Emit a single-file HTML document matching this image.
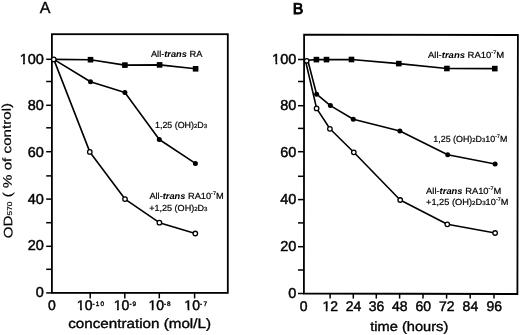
<!DOCTYPE html>
<html><head><meta charset="utf-8"><style>
html,body{margin:0;padding:0;background:#fff;}
body{width:520px;height:335px;overflow:hidden;}
svg{display:block;will-change:transform;text-rendering:geometricPrecision;}
text{font-family:"Liberation Sans", sans-serif;fill:#000;stroke:#000;stroke-width:0.45px;}
</style></head><body>
<svg width="520" height="335" viewBox="0 0 520 335">
<rect x="51.9" y="34.2" width="175.90" height="258.70" fill="none" stroke="#000" stroke-width="1.8"/>
<line x1="46.2" y1="59.30" x2="51.9" y2="59.30" stroke="#000" stroke-width="1.5"/>
<line x1="46.2" y1="81.50" x2="51.9" y2="81.50" stroke="#000" stroke-width="1.5"/>
<line x1="46.2" y1="105.30" x2="51.9" y2="105.30" stroke="#000" stroke-width="1.5"/>
<line x1="46.2" y1="127.80" x2="51.9" y2="127.80" stroke="#000" stroke-width="1.5"/>
<line x1="46.2" y1="151.70" x2="51.9" y2="151.70" stroke="#000" stroke-width="1.5"/>
<line x1="46.2" y1="175.90" x2="51.9" y2="175.90" stroke="#000" stroke-width="1.5"/>
<line x1="46.2" y1="199.10" x2="51.9" y2="199.10" stroke="#000" stroke-width="1.5"/>
<line x1="46.2" y1="222.70" x2="51.9" y2="222.70" stroke="#000" stroke-width="1.5"/>
<line x1="46.2" y1="246.30" x2="51.9" y2="246.30" stroke="#000" stroke-width="1.5"/>
<line x1="46.2" y1="269.30" x2="51.9" y2="269.30" stroke="#000" stroke-width="1.5"/>
<line x1="46.2" y1="292.90" x2="51.9" y2="292.90" stroke="#000" stroke-width="1.5"/>
<line x1="90.20" y1="292.9" x2="90.20" y2="298.4" stroke="#000" stroke-width="1.5"/>
<line x1="124.80" y1="292.9" x2="124.80" y2="298.4" stroke="#000" stroke-width="1.5"/>
<line x1="159.30" y1="292.9" x2="159.30" y2="298.4" stroke="#000" stroke-width="1.5"/>
<line x1="194.60" y1="292.9" x2="194.60" y2="298.4" stroke="#000" stroke-width="1.5"/>
<text x="43.85" y="63.7" font-size="14.5" text-anchor="end" >100</text>
<text x="43.85" y="110.4" font-size="14.5" text-anchor="end" >80</text>
<text x="43.85" y="157.1" font-size="14.5" text-anchor="end" >60</text>
<text x="43.85" y="203.7" font-size="14.5" text-anchor="end" >40</text>
<text x="43.85" y="249.8" font-size="14.5" text-anchor="end" >20</text>
<text x="43.85" y="296.5" font-size="14.5" text-anchor="end" >0</text>
<text x="51.9" y="310.4" font-size="14" text-anchor="middle" >0</text>
<text x="92.45" y="310.4" font-size="14" text-anchor="end" >10</text>
<text x="92.5" y="305.5" font-size="6.4" textLength="11.6" lengthAdjust="spacing" style="stroke-width:0.35px">-10</text>
<text x="129.35" y="310.4" font-size="14" text-anchor="end" >10</text>
<text x="129.4" y="305.5" font-size="6.4" textLength="6.65" lengthAdjust="spacing" style="stroke-width:0.35px">-9</text>
<text x="164.05" y="310.4" font-size="14" text-anchor="end" >10</text>
<text x="164.1" y="305.5" font-size="6.4" textLength="6.35" lengthAdjust="spacing" style="stroke-width:0.35px">-8</text>
<text x="199.95" y="310.4" font-size="14" text-anchor="end" >10</text>
<text x="200.0" y="305.5" font-size="6.4" textLength="7.05" lengthAdjust="spacing" style="stroke-width:0.35px">-7</text>
<text x="68.2" y="327.7" font-size="13.4" text-anchor="start" textLength="142.8" lengthAdjust="spacingAndGlyphs" style="stroke-width:0.35px" >concentration (mol/L)</text>
<text transform="translate(12.4,238.3) rotate(-90.8)" font-size="12.3" style="stroke-width:0.2px" textLength="135.5" lengthAdjust="spacingAndGlyphs">OD<tspan font-size="6.8">570</tspan> ( % of control)</text>
<text x="45.2" y="12.6" font-size="16.0" text-anchor="middle" style="stroke-width:0.35px" >A</text>
<path d="M53.8,59.4 L90.5,59.7 L124.9,65.1 L159.6,64.9 L195.6,68.8" fill="none" stroke="#000" stroke-width="1.6" stroke-linejoin="round"/>
<path d="M53.8,59.4 L90.5,81.7 L124.9,92.5 L159.3,139.5 L195.4,163.4" fill="none" stroke="#000" stroke-width="1.6" stroke-linejoin="round"/>
<path d="M53.8,59.4 L89.8,151.9 L125.0,199.1 L159.4,222.7 L195.3,233.5" fill="none" stroke="#000" stroke-width="1.6" stroke-linejoin="round"/>
<rect x="87.70" y="56.90" width="5.6" height="5.6" fill="#000"/>
<rect x="122.10" y="62.30" width="5.6" height="5.6" fill="#000"/>
<rect x="156.80" y="62.10" width="5.6" height="5.6" fill="#000"/>
<rect x="192.80" y="66.00" width="5.6" height="5.6" fill="#000"/>
<circle cx="90.5" cy="81.7" r="2.5" fill="#000"/>
<circle cx="124.9" cy="92.5" r="2.5" fill="#000"/>
<circle cx="159.3" cy="139.5" r="2.5" fill="#000"/>
<circle cx="195.4" cy="163.4" r="2.5" fill="#000"/>
<circle cx="53.8" cy="59.4" r="2.25" fill="#fff" stroke="#000" stroke-width="1.3"/>
<circle cx="89.8" cy="151.9" r="2.25" fill="#fff" stroke="#000" stroke-width="1.3"/>
<circle cx="125.0" cy="199.1" r="2.25" fill="#fff" stroke="#000" stroke-width="1.3"/>
<circle cx="159.4" cy="222.7" r="2.25" fill="#fff" stroke="#000" stroke-width="1.3"/>
<circle cx="195.3" cy="233.5" r="2.25" fill="#fff" stroke="#000" stroke-width="1.3"/>
<text x="150.9" y="56.8" font-size="8.8" text-anchor="start" textLength="51.5" lengthAdjust="spacingAndGlyphs" style="stroke-width:0.2px" >All-<tspan font-style="italic" font-weight="bold" style="stroke-width:0.05px">trans</tspan> RA</text>
<text x="155.0" y="128.1" font-size="8.8" text-anchor="start" textLength="52.0" lengthAdjust="spacingAndGlyphs" style="stroke-width:0.2px" >1,25 (OH)<tspan font-size="5.9">2</tspan>D<tspan font-size="5.9">3</tspan></text>
<text x="149.4" y="198.9" font-size="8.8" text-anchor="start" textLength="74.3" lengthAdjust="spacingAndGlyphs" style="stroke-width:0.2px" >All-<tspan font-style="italic" font-weight="bold" style="stroke-width:0.05px">trans</tspan> RA10<tspan font-size="5.2" dy="-3.9">-7</tspan><tspan dy="3.9">M</tspan></text>
<text x="149.2" y="211.1" font-size="8.8" text-anchor="start" textLength="58.3" lengthAdjust="spacingAndGlyphs" style="stroke-width:0.2px" >+1,25 (OH)<tspan font-size="5.9">2</tspan>D<tspan font-size="5.9">3</tspan></text>
<path d="M304.1,34.65 L517.9,35.0 L517.4,294.0 L303.9,293.5 Z" fill="none" stroke="#000" stroke-width="1.8" stroke-linejoin="miter"/>
<line x1="298.0" y1="59.50" x2="304.0" y2="59.50" stroke="#000" stroke-width="1.5"/>
<line x1="298.0" y1="81.50" x2="304.0" y2="81.50" stroke="#000" stroke-width="1.5"/>
<line x1="298.0" y1="105.70" x2="304.0" y2="105.70" stroke="#000" stroke-width="1.5"/>
<line x1="298.0" y1="128.40" x2="304.0" y2="128.40" stroke="#000" stroke-width="1.5"/>
<line x1="298.0" y1="151.70" x2="304.0" y2="151.70" stroke="#000" stroke-width="1.5"/>
<line x1="298.0" y1="176.30" x2="304.0" y2="176.30" stroke="#000" stroke-width="1.5"/>
<line x1="298.0" y1="199.60" x2="304.0" y2="199.60" stroke="#000" stroke-width="1.5"/>
<line x1="298.0" y1="222.90" x2="304.0" y2="222.90" stroke="#000" stroke-width="1.5"/>
<line x1="298.0" y1="246.70" x2="304.0" y2="246.70" stroke="#000" stroke-width="1.5"/>
<line x1="298.0" y1="270.00" x2="304.0" y2="270.00" stroke="#000" stroke-width="1.5"/>
<line x1="298.0" y1="293.50" x2="304.0" y2="293.50" stroke="#000" stroke-width="1.5"/>
<line x1="330.10" y1="293.6" x2="330.10" y2="298.6" stroke="#000" stroke-width="1.5"/>
<line x1="353.30" y1="293.6" x2="353.30" y2="298.6" stroke="#000" stroke-width="1.5"/>
<line x1="376.30" y1="293.6" x2="376.30" y2="298.6" stroke="#000" stroke-width="1.5"/>
<line x1="399.60" y1="293.6" x2="399.60" y2="298.6" stroke="#000" stroke-width="1.5"/>
<line x1="423.00" y1="293.6" x2="423.00" y2="298.6" stroke="#000" stroke-width="1.5"/>
<line x1="446.60" y1="293.6" x2="446.60" y2="298.6" stroke="#000" stroke-width="1.5"/>
<line x1="470.20" y1="293.6" x2="470.20" y2="298.6" stroke="#000" stroke-width="1.5"/>
<line x1="494.00" y1="293.6" x2="494.00" y2="298.6" stroke="#000" stroke-width="1.5"/>
<text x="296.3" y="63.7" font-size="14.5" text-anchor="end" >100</text>
<text x="296.3" y="110.2" font-size="14.5" text-anchor="end" >80</text>
<text x="296.3" y="157.2" font-size="14.5" text-anchor="end" >60</text>
<text x="296.3" y="203.9" font-size="14.5" text-anchor="end" >40</text>
<text x="296.3" y="250.7" font-size="14.5" text-anchor="end" >20</text>
<text x="296.3" y="297.7" font-size="14.5" text-anchor="end" >0</text>
<text x="303.7" y="311.2" font-size="14" text-anchor="middle" >0</text>
<text x="330.3" y="311.2" font-size="14" text-anchor="middle" >12</text>
<text x="353.5" y="311.2" font-size="14" text-anchor="middle" >24</text>
<text x="376.5" y="311.2" font-size="14" text-anchor="middle" >36</text>
<text x="399.8" y="311.2" font-size="14" text-anchor="middle" >48</text>
<text x="423.2" y="311.2" font-size="14" text-anchor="middle" >60</text>
<text x="446.8" y="311.2" font-size="14" text-anchor="middle" >72</text>
<text x="470.4" y="311.2" font-size="14" text-anchor="middle" >84</text>
<text x="494.2" y="311.2" font-size="14" text-anchor="middle" >96</text>
<text x="370.3" y="330.5" font-size="13.4" text-anchor="start" textLength="78.0" lengthAdjust="spacingAndGlyphs" style="stroke-width:0.35px" >time (hours)</text>
<text x="298.1" y="14.2" font-size="15.8" text-anchor="middle" style="stroke-width:0.9px" >B</text>
<path d="M306.7,60.2 L316.4,59.6 L326.5,59.6 L351.5,59.5 L398.8,63.6 L446.9,68.5 L494.8,68.6" fill="none" stroke="#000" stroke-width="1.6" stroke-linejoin="round"/>
<path d="M307.9,60.8 L316.6,94.2 L330.4,105.6 L353.3,119.3 L399.9,131.0 L447.7,154.7 L495.1,164.0" fill="none" stroke="#000" stroke-width="1.6" stroke-linejoin="round"/>
<path d="M305.5,60.8 L316.6,108.4 L329.9,128.8 L353.8,152.3 L400.2,200.0 L447.3,224.3 L495.1,233.0" fill="none" stroke="#000" stroke-width="1.6" stroke-linejoin="round"/>
<rect x="313.60" y="56.80" width="5.6" height="5.6" fill="#000"/>
<rect x="323.70" y="56.80" width="5.6" height="5.6" fill="#000"/>
<rect x="348.70" y="56.70" width="5.6" height="5.6" fill="#000"/>
<rect x="396.00" y="60.80" width="5.6" height="5.6" fill="#000"/>
<rect x="444.10" y="65.70" width="5.6" height="5.6" fill="#000"/>
<rect x="492.00" y="65.80" width="5.6" height="5.6" fill="#000"/>
<circle cx="316.6" cy="94.2" r="2.5" fill="#000"/>
<circle cx="330.4" cy="105.6" r="2.5" fill="#000"/>
<circle cx="353.3" cy="119.3" r="2.5" fill="#000"/>
<circle cx="399.9" cy="131.0" r="2.5" fill="#000"/>
<circle cx="447.7" cy="154.7" r="2.5" fill="#000"/>
<circle cx="495.1" cy="164.0" r="2.5" fill="#000"/>
<circle cx="306.7" cy="60.8" r="2.25" fill="#fff" stroke="#000" stroke-width="1.3"/>
<circle cx="316.6" cy="108.4" r="2.25" fill="#fff" stroke="#000" stroke-width="1.3"/>
<circle cx="329.9" cy="128.8" r="2.25" fill="#fff" stroke="#000" stroke-width="1.3"/>
<circle cx="353.8" cy="152.3" r="2.25" fill="#fff" stroke="#000" stroke-width="1.3"/>
<circle cx="400.2" cy="200.0" r="2.25" fill="#fff" stroke="#000" stroke-width="1.3"/>
<circle cx="447.3" cy="224.3" r="2.25" fill="#fff" stroke="#000" stroke-width="1.3"/>
<circle cx="495.1" cy="233.0" r="2.25" fill="#fff" stroke="#000" stroke-width="1.3"/>
<text x="428.0" y="58.0" font-size="8.8" text-anchor="start" textLength="76.3" lengthAdjust="spacingAndGlyphs" style="stroke-width:0.2px" >All-<tspan font-style="italic" font-weight="bold" style="stroke-width:0.05px">trans</tspan> RA10<tspan font-size="5.2" dy="-3.9">-7</tspan><tspan dy="3.9">M</tspan></text>
<text x="433.3" y="141.7" font-size="8.8" text-anchor="start" textLength="74.0" lengthAdjust="spacingAndGlyphs" style="stroke-width:0.2px" >1,25 (OH)<tspan font-size="5.9">2</tspan>D<tspan font-size="5.9">3</tspan>10<tspan font-size="5.2" dy="-3.9">-7</tspan><tspan dy="3.9">M</tspan></text>
<text x="426.1" y="193.5" font-size="8.8" text-anchor="start" textLength="75.2" lengthAdjust="spacingAndGlyphs" style="stroke-width:0.2px" >All-<tspan font-style="italic" font-weight="bold" style="stroke-width:0.05px">trans</tspan> RA10<tspan font-size="5.2" dy="-3.9">-7</tspan><tspan dy="3.9">M</tspan></text>
<text x="426.0" y="205.1" font-size="8.8" text-anchor="start" textLength="82.5" lengthAdjust="spacingAndGlyphs" style="stroke-width:0.2px" >+1,25 (OH)<tspan font-size="5.9">2</tspan>D<tspan font-size="5.9">3</tspan>10<tspan font-size="5.2" dy="-3.9">-7</tspan><tspan dy="3.9">M</tspan></text>
<rect x="19.63" y="61.51" width="3.37" height="3.69" fill="#fff"/>
<rect x="24.88" y="61.51" width="3.22" height="3.69" fill="#fff"/>
<rect x="76.82" y="308.25" width="3.27" height="3.65" fill="#fff"/>
<rect x="81.93" y="308.25" width="3.13" height="3.65" fill="#fff"/>
<rect x="113.72" y="308.25" width="3.27" height="3.65" fill="#fff"/>
<rect x="118.83" y="308.25" width="3.13" height="3.65" fill="#fff"/>
<rect x="148.42" y="308.25" width="3.27" height="3.65" fill="#fff"/>
<rect x="153.53" y="308.25" width="3.13" height="3.65" fill="#fff"/>
<rect x="184.32" y="308.25" width="3.27" height="3.65" fill="#fff"/>
<rect x="189.43" y="308.25" width="3.13" height="3.65" fill="#fff"/>
<rect x="272.08" y="61.51" width="3.37" height="3.69" fill="#fff"/>
<rect x="277.33" y="61.51" width="3.22" height="3.69" fill="#fff"/>
<rect x="322.46" y="309.05" width="3.27" height="3.65" fill="#fff"/>
<rect x="327.56" y="309.05" width="3.13" height="3.65" fill="#fff"/>
</svg>
</body></html>
